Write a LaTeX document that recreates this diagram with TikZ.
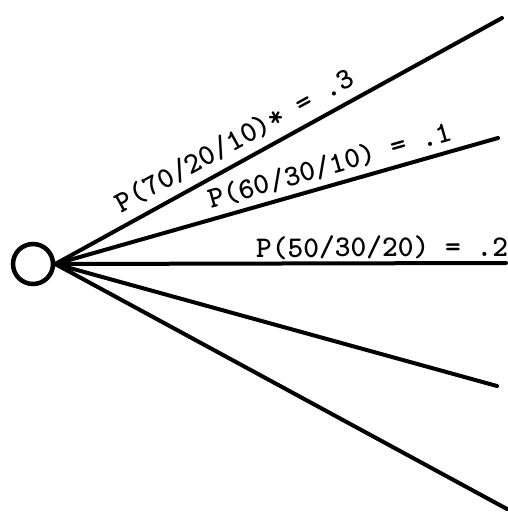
\documentclass[tikz,border=0pt]{standalone}
\usepackage{fontspec}
\usepackage{tikz}

\begin{document}
\begin{tikzpicture}[
    x=1pt, y=-1pt,
    chance/.style={circle, draw, line width=4.5pt, minimum size=40pt, inner sep=0pt},
    branch/.style={line width=4pt, line cap=round},
    lbl/.style={font=\fontsize{30}{32}\selectfont\ttfamily\bfseries, inner sep=0pt, sloped}
]
    \useasboundingbox (0,0) rectangle (508,514);

    \node[chance] (c) at (33,264) {};
    \coordinate (e1) at (502,18);
    \coordinate (e2) at (498,138);
    \coordinate (e3) at (506,263);
    \coordinate (e4) at (497,386);
    \coordinate (e5) at (507,509);

    \draw[branch] (c.east) -- node[lbl, pos=0.425, above=8pt] {P(70/20/10)* = .3} (e1);
    \draw[branch] (c.east) -- node[lbl, pos=0.633, above=6pt] {P(60/30/10) = .1} (e2);
    \draw[branch] (c.east) -- node[lbl, pos=0.725, above=2pt] {P(50/30/20) = .2} (e3);
    \draw[branch] (c.east) -- (e4);
    \draw[branch] (c.east) -- (e5);
\end{tikzpicture}
\end{document}
